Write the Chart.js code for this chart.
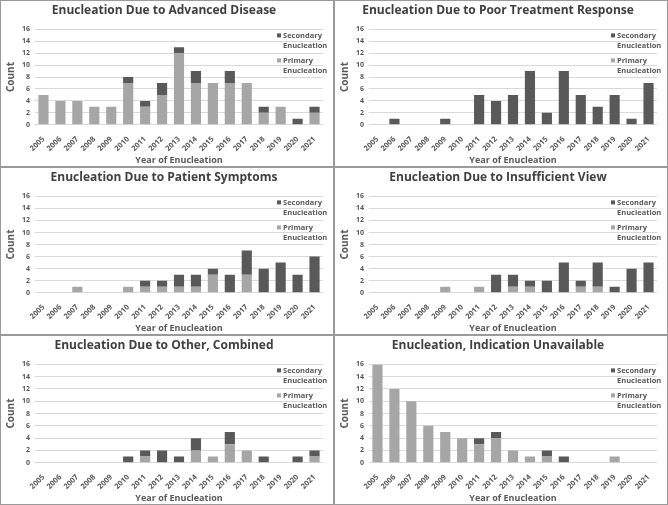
<!DOCTYPE html>
<html>
<head>
<meta charset="utf-8">
<script src="https://cdn.jsdelivr.net/npm/chart.js@4.4.1/dist/chart.umd.min.js"></script>
<style>
    body { margin: 0; background: #fff; }
    #grid { display: grid; grid-template-columns: 334px 334px; grid-template-rows: 167px 168px 170px; width: 668px; height: 505px; }
    .panel { box-sizing: border-box; border: 1px solid #9a9a9a; position: relative; }
    .panel canvas { display: block; }
</style>
</head>
<body>
<div id="grid">
    <div class="panel"><canvas id="c1" width="332" height="165"></canvas></div>
    <div class="panel"><canvas id="c2" width="332" height="165"></canvas></div>
    <div class="panel"><canvas id="c3" width="332" height="166"></canvas></div>
    <div class="panel"><canvas id="c4" width="332" height="166"></canvas></div>
    <div class="panel"><canvas id="c5" width="332" height="168"></canvas></div>
    <div class="panel"><canvas id="c6" width="332" height="168"></canvas></div>
</div>
<script>
// Veriler
const years = ['2005', '2006', '2007', '2008', '2009', '2010', '2011', '2012', '2013',
    '2014', '2015', '2016', '2017', '2018', '2019', '2020', '2021'];
const yTicks = [0, 2, 4, 6, 8, 10, 12, 14, 16];

const advancedPrimary   = [5, 4, 4, 3, 3, 7, 3, 5, 12, 7, 7, 7, 7, 2, 3, 0, 2];
const advancedSecondary = [0, 0, 0, 0, 0, 1, 1, 2, 1, 2, 0, 2, 0, 1, 0, 1, 1];

const poorPrimary   = [0, 0, 0, 0, 0, 0, 0, 0, 0, 0, 0, 0, 0, 0, 0, 0, 0];
const poorSecondary = [0, 1, 0, 0, 1, 0, 5, 4, 5, 9, 2, 9, 5, 3, 5, 1, 7];

const symptomsPrimary   = [0, 0, 1, 0, 0, 1, 1, 1, 1, 1, 3, 0, 3, 0, 0, 0, 0];
const symptomsSecondary = [0, 0, 0, 0, 0, 0, 1, 1, 2, 2, 1, 3, 4, 4, 5, 3, 6];

const viewPrimary   = [0, 0, 0, 0, 1, 0, 1, 0, 1, 1, 0, 0, 1, 1, 0, 0, 0];
const viewSecondary = [0, 0, 0, 0, 0, 0, 0, 3, 2, 1, 2, 5, 1, 4, 1, 4, 5];

const otherPrimary   = [0, 0, 0, 0, 0, 0, 1, 0, 0, 2, 1, 3, 2, 0, 0, 0, 1];
const otherSecondary = [0, 0, 0, 0, 0, 1, 1, 2, 1, 2, 0, 2, 0, 1, 0, 1, 1];

const unavailPrimary   = [16, 12, 10, 6, 5, 4, 3, 4, 2, 1, 1, 0, 0, 0, 1, 0, 0];
const unavailSecondary = [0, 0, 0, 0, 0, 0, 1, 1, 0, 0, 1, 1, 0, 0, 0, 0, 0];

const PRIMARY_COLOR = '#a6a6a6';
const SECONDARY_COLOR = '#595959';
const TEXT_COLOR = '#595959';
const FONT = "'Open Sans', 'Liberation Sans', sans-serif";

// Grafiğin içine sağ üstte çizilen lejant
const insideLegend = {
    id: 'insideLegend',
    afterDraw(chart) {
        const ctx = chart.ctx;
        const x = chart.chartArea.right - 40;
        const y = chart.chartArea.top + 6;
        const items = [
            { color: SECONDARY_COLOR, lines: ['Secondary', 'Enucleation'], dy: 0 },
            { color: PRIMARY_COLOR, lines: ['Primary', 'Enucleation'], dy: 25 }
        ];
        ctx.save();
        ctx.font = `bold 7.5px ${FONT}`;
        ctx.textBaseline = 'middle';
        items.forEach(item => {
            ctx.fillStyle = item.color;
            ctx.fillRect(x - 6, y + item.dy - 2, 4, 4);
            ctx.fillStyle = TEXT_COLOR;
            item.lines.forEach((line, i) => ctx.fillText(line, x, y + item.dy + i * 10));
        });
        ctx.restore();
    }
};

function makeChart(id, title, primary, secondary) {
    return new Chart(document.getElementById(id), {
        type: 'bar',
        data: {
            labels: years,
            datasets: [
                { label: 'Primary Enucleation', data: primary, backgroundColor: PRIMARY_COLOR },
                { label: 'Secondary Enucleation', data: secondary, backgroundColor: SECONDARY_COLOR }
            ]
        },
        options: {
            responsive: false,
            animation: false,
            layout: { padding: { left: 4, right: 10, bottom: 0 } },
            datasets: { bar: { barPercentage: 0.6, categoryPercentage: 1.0 } },
            plugins: {
                legend: { display: false },
                tooltip: { enabled: false },
                title: {
                    display: true,
                    text: title,
                    color: '#404040',
                    font: { family: FONT, size: 12, weight: 'bold' },
                    padding: { top: 2, bottom: 12 }
                }
            },
            scales: {
                x: {
                    stacked: true,
                    grid: { display: false },
                    border: { display: false },
                    ticks: {
                        color: TEXT_COLOR,
                        font: { family: FONT, size: 7.5, weight: 'bold' },
                        autoSkip: false,
                        minRotation: 45, maxRotation: 45, padding: 2
                    },
                    title: {
                        display: true,
                        text: 'Year of Enucleation',
                        color: TEXT_COLOR,
                        font: { family: FONT, size: 9, weight: 'bold' },
                        padding: { top: 0, bottom: 0 }
                    }
                },
                y: {
                    stacked: true,
                    min: 0, max: 16,
                    afterBuildTicks: axis => { axis.ticks = yTicks.map(v => ({ value: v })); },
                    grid: { color: '#d9d9d9', drawTicks: false },
                    border: { display: false },
                    ticks: {
                        color: TEXT_COLOR,
                        font: { family: FONT, size: 7, weight: 'bold' },
                        padding: 5
                    },
                    title: {
                        display: true,
                        text: 'Count',
                        color: TEXT_COLOR,
                        font: { family: FONT, size: 10, weight: 'bold' },
                        padding: 0
                    }
                }
            }
        },
        plugins: [insideLegend]
    });
}

makeChart('c1', 'Enucleation Due to Advanced Disease', advancedPrimary, advancedSecondary);
makeChart('c2', 'Enucleation Due to Poor Treatment Response', poorPrimary, poorSecondary);
makeChart('c3', 'Enucleation Due to Patient Symptoms', symptomsPrimary, symptomsSecondary);
makeChart('c4', 'Enucleation Due to Insufficient View', viewPrimary, viewSecondary);
makeChart('c5', 'Enucleation Due to Other, Combined', otherPrimary, otherSecondary);
makeChart('c6', 'Enucleation, Indication Unavailable', unavailPrimary, unavailSecondary);
</script>
</body>
</html>
